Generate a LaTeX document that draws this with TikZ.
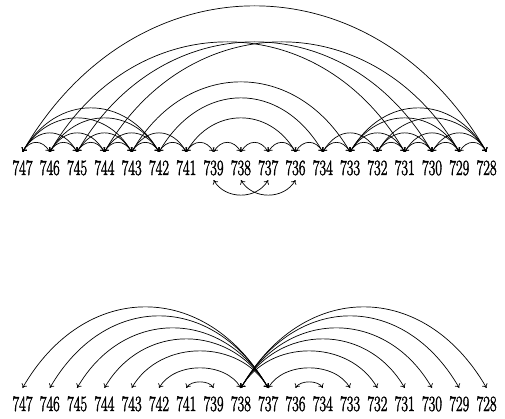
\documentclass[tikz,border=0pt]{standalone}
\usepackage{fontspec}
\newfontfamily\numfont{Latin Modern Roman}[FakeBold=2.2]
\usetikzlibrary{arrows.meta}
\tikzset{
  num/.style={anchor=base, inner sep=0pt, font=\numfont\fontsize{21.7}{22}\selectfont},
  arc/.style={line width=0.7pt, {To[length=4pt,width=6pt]}-{To[length=4pt,width=6pt]}},
}
\newcommand\ArcUp[3]{\draw[arc] (#1) .. controls +({0.7698*#3},{1.3333*#3}) and +({-0.7698*#3},{1.3333*#3}) .. (#2);}
\newcommand\ArcDn[3]{\draw[arc] (#1) .. controls +({0.7698*#3},{-1.3333*#3}) and +({-0.7698*#3},{-1.3333*#3}) .. (#2);}
\begin{document}
\begin{tikzpicture}[x=1pt,y=1pt]
\useasboundingbox (0,0) rectangle (505,418);
\foreach \lab [count=\i] in {747,746,745,744,743,742,741,739,738,737,736,734,733,732,731,730,729,728}{
  \pgfmathsetmacro\xx{22.5+27.3*(\i-1)}
  \node[num] (t\i) at (\xx,243) {\scalebox{0.67}[1]{\lab}};
  \node[num] (s\i) at (\xx,7) {\scalebox{0.67}[1]{\lab}};
  \coordinate (a\i) at (\xx,266);
  \coordinate (b\i) at (\xx,238);
  \coordinate (c\i) at (\xx,30);
}
% top diagram: adjacent arcs
\foreach \i in {1,...,17}{
  \pgfmathtruncatemacro\j{\i+1}
  \ArcUp{a\i}{a\j}{9.5}
}
% two-step arcs
\foreach \i in {1,...,5,12,13,14,15,16}{
  \pgfmathtruncatemacro\j{\i+2}
  \ArcUp{a\i}{a\j}{19}
}
% local clusters
\ArcUp{a1}{a6}{44}
\ArcUp{a1}{a5}{34}
\ArcUp{a2}{a6}{34}
\ArcUp{a13}{a18}{44}
\ArcUp{a13}{a17}{34}
\ArcUp{a14}{a18}{34}
% long arcs
\ArcUp{a1}{a18}{146}
\ArcUp{a2}{a15}{110}
\ArcUp{a3}{a16}{110}
\ArcUp{a4}{a17}{110}
\ArcUp{a5}{a13}{70}
\ArcUp{a6}{a12}{54}
\ArcUp{a7}{a11}{34}
% below arcs
\ArcDn{b8}{b10}{15}
\ArcDn{b9}{b11}{15}
% bottom diagram
\ArcUp{c1}{c10}{81}
\ArcUp{c2}{c10}{72}
\ArcUp{c3}{c10}{60}
\ArcUp{c4}{c10}{49}
\ArcUp{c5}{c10}{37}
\ArcUp{c6}{c9}{20}
\ArcUp{c7}{c8}{6}
\ArcUp{c9}{c18}{81}
\ArcUp{c9}{c17}{72}
\ArcUp{c9}{c16}{60}
\ArcUp{c9}{c15}{49}
\ArcUp{c9}{c14}{37}
\ArcUp{c10}{c13}{20}
\ArcUp{c11}{c12}{6}
\end{tikzpicture}
\end{document}
